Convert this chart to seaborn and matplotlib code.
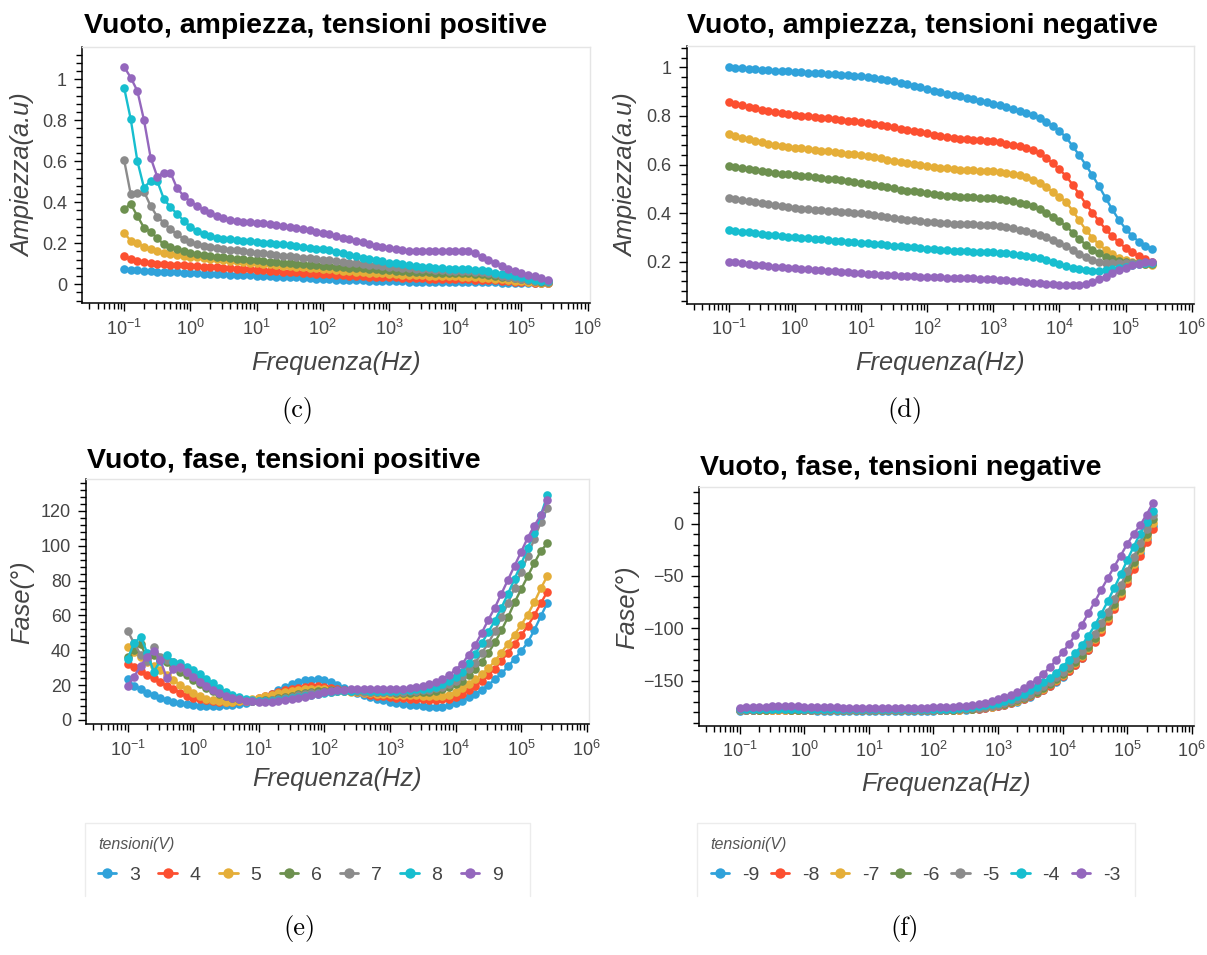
import numpy as np
import pandas as pd
import matplotlib
matplotlib.use("Agg")
import matplotlib.pyplot as plt
import seaborn as sns
from matplotlib.ticker import (FixedLocator, LogLocator, MultipleLocator, FuncFormatter,
                               LogFormatterSciNotation, NullFormatter)
from matplotlib.lines import Line2D

# ---------------------------------------------------------------- data
freq = [
    0.1, 0.1259, 0.1585, 0.1995, 0.2512, 0.3162, 0.3981, 0.5012, 0.6310, 0.7943,
    1.0, 1.259, 1.585, 1.995, 2.512, 3.162, 3.981, 5.012, 6.310, 7.943,
    10.0, 12.59, 15.85, 19.95, 25.12, 31.62, 39.81, 50.12, 63.10, 79.43,
    100.0, 125.9, 158.5, 199.5, 251.2, 316.2, 398.1, 501.2, 631.0, 794.3,
    1000.0, 1259.0, 1585.0, 1995.0, 2512.0, 3162.0, 3981.0, 5012.0, 6310.0, 7943.0,
    1.0e4, 1.259e4, 1.585e4, 1.995e4, 2.512e4, 3.162e4, 3.981e4, 5.012e4, 6.310e4, 7.943e4,
    1.0e5, 1.259e5, 1.585e5, 1.995e5, 2.512e5,
]
decade_ticks = [1e-1, 1e0, 1e1, 1e2, 1e3, 1e4, 1e5, 1e6]

pos_labels = ["3", "4", "5", "6", "7", "8", "9"]
neg_labels = ["-9", "-8", "-7", "-6", "-5", "-4", "-3"]
colors = ["#30a2da", "#fc4f30", "#e5ae38", "#6d904f", "#8b8b8b", "#17becf", "#9467bd"]

# amplitude (a.u.), positive bias
amp_p3 = [0.073, 0.070, 0.068, 0.066, 0.064, 0.062, 0.061, 0.059, 0.058, 0.057,
          0.055, 0.054, 0.052, 0.051, 0.050, 0.048, 0.047, 0.046, 0.044, 0.043,
          0.042, 0.040, 0.039, 0.037, 0.036, 0.034, 0.033, 0.031, 0.030, 0.028,
          0.026, 0.025, 0.023, 0.022, 0.021, 0.020, 0.019, 0.018, 0.017, 0.016,
          0.015, 0.014, 0.014, 0.013, 0.013, 0.013, 0.012, 0.012, 0.012, 0.012,
          0.011, 0.011, 0.011, 0.010, 0.010, 0.009, 0.009, 0.008, 0.008, 0.007,
          0.007, 0.006, 0.005, 0.005, 0.004]
amp_p4 = [0.138, 0.122, 0.114, 0.108, 0.104, 0.101, 0.098, 0.096, 0.094, 0.092,
          0.090, 0.088, 0.086, 0.084, 0.082, 0.080, 0.078, 0.076, 0.074, 0.072,
          0.070, 0.068, 0.066, 0.064, 0.062, 0.060, 0.058, 0.056, 0.054, 0.052,
          0.050, 0.048, 0.046, 0.044, 0.042, 0.040, 0.039, 0.037, 0.036, 0.035,
          0.034, 0.033, 0.032, 0.031, 0.030, 0.029, 0.028, 0.028, 0.027, 0.027,
          0.026, 0.025, 0.024, 0.023, 0.022, 0.021, 0.019, 0.017, 0.015, 0.013,
          0.011, 0.009, 0.008, 0.007, 0.006]
amp_p5 = [0.249, 0.213, 0.200, 0.183, 0.172, 0.162, 0.154, 0.148, 0.143, 0.139,
          0.135, 0.131, 0.127, 0.124, 0.121, 0.118, 0.115, 0.112, 0.109, 0.106,
          0.103, 0.100, 0.097, 0.094, 0.091, 0.089, 0.086, 0.084, 0.081, 0.079,
          0.076, 0.073, 0.070, 0.067, 0.064, 0.061, 0.059, 0.057, 0.055, 0.053,
          0.051, 0.049, 0.047, 0.045, 0.044, 0.043, 0.042, 0.041, 0.040, 0.039,
          0.038, 0.037, 0.036, 0.034, 0.032, 0.030, 0.027, 0.024, 0.021, 0.018,
          0.015, 0.012, 0.009, 0.007, 0.005]
amp_p6 = [0.366, 0.392, 0.333, 0.276, 0.257, 0.224, 0.195, 0.183, 0.172, 0.162,
          0.154, 0.148, 0.143, 0.139, 0.135, 0.131, 0.128, 0.125, 0.122, 0.119,
          0.116, 0.113, 0.110, 0.107, 0.104, 0.102, 0.099, 0.097, 0.095, 0.093,
          0.091, 0.089, 0.086, 0.084, 0.081, 0.079, 0.077, 0.075, 0.073, 0.071,
          0.069, 0.066, 0.064, 0.062, 0.060, 0.059, 0.058, 0.057, 0.056, 0.055,
          0.054, 0.054, 0.053, 0.051, 0.049, 0.045, 0.041, 0.037, 0.033, 0.029,
          0.025, 0.021, 0.017, 0.013, 0.010]
amp_p7 = [0.606, 0.439, 0.444, 0.452, 0.382, 0.330, 0.300, 0.268, 0.244, 0.221,
          0.205, 0.196, 0.189, 0.183, 0.178, 0.173, 0.169, 0.165, 0.161, 0.157,
          0.153, 0.150, 0.146, 0.143, 0.139, 0.136, 0.132, 0.129, 0.126, 0.123,
          0.120, 0.117, 0.113, 0.110, 0.106, 0.102, 0.099, 0.095, 0.092, 0.089,
          0.086, 0.083, 0.080, 0.078, 0.076, 0.074, 0.072, 0.070, 0.068, 0.067,
          0.066, 0.065, 0.064, 0.062, 0.059, 0.054, 0.048, 0.042, 0.036, 0.031,
          0.026, 0.022, 0.018, 0.015, 0.012]
amp_p8 = [0.959, 0.805, 0.601, 0.471, 0.504, 0.504, 0.416, 0.376, 0.343, 0.310,
          0.281, 0.260, 0.244, 0.235, 0.228, 0.223, 0.219, 0.215, 0.212, 0.209,
          0.206, 0.203, 0.200, 0.197, 0.194, 0.190, 0.186, 0.182, 0.178, 0.174,
          0.170, 0.165, 0.158, 0.151, 0.144, 0.137, 0.130, 0.123, 0.117, 0.111,
          0.106, 0.102, 0.098, 0.094, 0.090, 0.086, 0.083, 0.080, 0.078, 0.076,
          0.075, 0.074, 0.073, 0.071, 0.068, 0.063, 0.056, 0.050, 0.044, 0.038,
          0.033, 0.028, 0.023, 0.018, 0.014]
amp_p9 = [1.061, 1.008, 0.943, 0.801, 0.618, 0.525, 0.544, 0.544, 0.468, 0.431,
          0.403, 0.383, 0.362, 0.346, 0.333, 0.322, 0.315, 0.309, 0.305, 0.302,
          0.300, 0.297, 0.293, 0.289, 0.285, 0.281, 0.276, 0.270, 0.264, 0.257,
          0.249, 0.243, 0.236, 0.228, 0.220, 0.212, 0.204, 0.196, 0.189, 0.182,
          0.176, 0.171, 0.167, 0.164, 0.162, 0.161, 0.160, 0.160, 0.161, 0.162,
          0.163, 0.162, 0.160, 0.150, 0.133, 0.118, 0.103, 0.088, 0.076, 0.065,
          0.056, 0.046, 0.038, 0.029, 0.021]

# amplitude (a.u.), negative bias
amp_n9 = [1.000, 0.998, 0.996, 0.994, 0.992, 0.990, 0.988, 0.986, 0.985, 0.983,
          0.982, 0.980, 0.978, 0.977, 0.975, 0.973, 0.972, 0.970, 0.968, 0.966,
          0.964, 0.961, 0.957, 0.953, 0.948, 0.943, 0.937, 0.931, 0.925, 0.918,
          0.910, 0.904, 0.898, 0.892, 0.886, 0.880, 0.874, 0.868, 0.862, 0.856,
          0.850, 0.843, 0.836, 0.829, 0.821, 0.812, 0.802, 0.790, 0.776, 0.759,
          0.738, 0.712, 0.676, 0.638, 0.598, 0.555, 0.510, 0.462, 0.415, 0.372,
          0.336, 0.306, 0.283, 0.266, 0.252]
amp_n8 = [0.858, 0.851, 0.844, 0.838, 0.832, 0.826, 0.820, 0.815, 0.811, 0.807,
          0.804, 0.801, 0.798, 0.795, 0.792, 0.790, 0.787, 0.784, 0.781, 0.778,
          0.776, 0.772, 0.768, 0.763, 0.758, 0.753, 0.748, 0.743, 0.738, 0.733,
          0.728, 0.723, 0.718, 0.714, 0.710, 0.707, 0.704, 0.701, 0.699, 0.697,
          0.695, 0.691, 0.686, 0.681, 0.675, 0.668, 0.658, 0.646, 0.627, 0.605,
          0.580, 0.553, 0.517, 0.478, 0.438, 0.402, 0.367, 0.333, 0.305, 0.280,
          0.257, 0.238, 0.224, 0.211, 0.200]
amp_n7 = [0.724, 0.717, 0.710, 0.703, 0.697, 0.691, 0.686, 0.681, 0.677, 0.673,
          0.669, 0.666, 0.663, 0.660, 0.657, 0.654, 0.651, 0.648, 0.645, 0.642,
          0.639, 0.635, 0.630, 0.625, 0.620, 0.615, 0.610, 0.606, 0.602, 0.598,
          0.594, 0.590, 0.587, 0.584, 0.581, 0.579, 0.577, 0.576, 0.575, 0.574,
          0.573, 0.570, 0.566, 0.561, 0.555, 0.548, 0.537, 0.523, 0.506, 0.488,
          0.468, 0.446, 0.410, 0.370, 0.331, 0.298, 0.271, 0.249, 0.231, 0.217,
          0.207, 0.200, 0.194, 0.190, 0.186]
amp_n6 = [0.594, 0.590, 0.586, 0.582, 0.578, 0.574, 0.570, 0.566, 0.563, 0.560,
          0.557, 0.554, 0.551, 0.548, 0.545, 0.542, 0.539, 0.536, 0.533, 0.529,
          0.525, 0.521, 0.517, 0.512, 0.507, 0.502, 0.497, 0.493, 0.489, 0.486,
          0.482, 0.478, 0.475, 0.472, 0.470, 0.468, 0.466, 0.465, 0.464, 0.463,
          0.461, 0.458, 0.454, 0.449, 0.443, 0.437, 0.428, 0.416, 0.401, 0.385,
          0.366, 0.348, 0.320, 0.293, 0.270, 0.250, 0.234, 0.220, 0.210, 0.203,
          0.199, 0.196, 0.194, 0.192, 0.191]
amp_n5 = [0.461, 0.457, 0.453, 0.449, 0.445, 0.441, 0.437, 0.433, 0.429, 0.425,
          0.420, 0.418, 0.416, 0.414, 0.412, 0.410, 0.408, 0.406, 0.404, 0.402,
          0.399, 0.396, 0.392, 0.388, 0.384, 0.380, 0.376, 0.373, 0.370, 0.367,
          0.365, 0.363, 0.361, 0.359, 0.357, 0.356, 0.355, 0.354, 0.353, 0.352,
          0.350, 0.347, 0.343, 0.338, 0.332, 0.326, 0.318, 0.310, 0.300, 0.289,
          0.277, 0.264, 0.247, 0.232, 0.218, 0.207, 0.200, 0.196, 0.194, 0.193,
          0.193, 0.194, 0.195, 0.195, 0.194]
amp_n4 = [0.330, 0.327, 0.324, 0.321, 0.318, 0.315, 0.312, 0.309, 0.306, 0.303,
          0.300, 0.298, 0.296, 0.294, 0.292, 0.289, 0.287, 0.285, 0.283, 0.281,
          0.278, 0.276, 0.273, 0.271, 0.268, 0.266, 0.263, 0.261, 0.259, 0.257,
          0.254, 0.252, 0.250, 0.248, 0.246, 0.245, 0.243, 0.242, 0.240, 0.239,
          0.238, 0.236, 0.234, 0.231, 0.228, 0.224, 0.220, 0.214, 0.207, 0.199,
          0.191, 0.182, 0.174, 0.168, 0.164, 0.162, 0.162, 0.164, 0.168, 0.173,
          0.179, 0.185, 0.190, 0.194, 0.196]
amp_n3 = [0.200, 0.197, 0.194, 0.191, 0.188, 0.185, 0.182, 0.179, 0.177, 0.175,
          0.173, 0.170, 0.168, 0.166, 0.164, 0.162, 0.160, 0.158, 0.156, 0.154,
          0.152, 0.150, 0.148, 0.146, 0.145, 0.144, 0.142, 0.141, 0.140, 0.139,
          0.138, 0.137, 0.136, 0.135, 0.134, 0.133, 0.132, 0.131, 0.130, 0.129,
          0.128, 0.126, 0.124, 0.122, 0.120, 0.117, 0.114, 0.111, 0.109, 0.107,
          0.105, 0.104, 0.104, 0.106, 0.110, 0.117, 0.127, 0.139, 0.152, 0.165,
          0.176, 0.185, 0.192, 0.197, 0.200]

# phase (deg), positive bias
ph_p3 = [23.5, 19.7, 17.6, 15.7, 14.4, 12.8, 11.5, 10.5, 9.6, 9.0,
         8.4, 8.2, 8.1, 8.1, 8.2, 8.4, 8.7, 9.2, 9.8, 10.6,
         11.6, 13.1, 15.0, 17.0, 18.9, 20.5, 21.8, 22.7, 23.2, 23.3,
         22.8, 21.8, 20.3, 18.5, 16.7, 15.3, 14.4, 13.4, 12.3, 11.4,
         10.5, 9.8, 9.2, 8.7, 8.3, 8.0, 7.7, 7.6, 7.7, 8.4,
         9.6, 11.0, 12.9, 14.8, 17.2, 20.1, 23.3, 26.7, 30.7, 35.0,
         39.5, 44.5, 51.5, 59.5, 67.3]
ph_p4 = [32.0, 30.6, 28.1, 25.8, 23.9, 21.6, 19.5, 17.6, 15.7, 14.0,
         12.8, 11.9, 11.2, 10.8, 10.5, 10.4, 10.4, 10.6, 11.0, 11.6,
         12.5, 13.5, 14.7, 15.9, 17.0, 17.9, 18.6, 19.1, 19.4, 19.4,
         19.1, 18.6, 18.0, 17.3, 16.6, 15.9, 15.2, 14.6, 14.0, 13.5,
         13.1, 12.7, 12.4, 12.2, 12.0, 11.8, 11.6, 11.6, 11.8, 12.3,
         13.2, 14.8, 17.2, 19.6, 22.4, 25.8, 29.5, 34.0, 38.6, 43.5,
         48.5, 54.0, 60.0, 67.0, 73.7]
ph_p5 = [42.1, 39.2, 36.3, 33.5, 31.0, 28.7, 25.8, 23.0, 20.1, 17.6,
         15.3, 13.6, 12.3, 11.3, 10.6, 10.3, 10.3, 10.6, 11.1, 11.8,
         12.7, 13.6, 14.5, 15.3, 16.1, 16.7, 17.2, 17.5, 17.7, 17.7,
         17.5, 17.2, 16.9, 16.5, 16.2, 15.8, 15.5, 15.3, 15.1, 14.9,
         14.7, 14.6, 14.5, 14.4, 14.2, 14.0, 13.8, 13.8, 14.0, 14.6,
         16.0, 18.2, 20.8, 23.3, 26.3, 29.6, 33.8, 38.7, 43.8, 49.0,
         54.5, 60.5, 67.5, 75.5, 82.7]
ph_p6 = [36.0, 40.2, 43.6, 35.4, 37.3, 34.4, 33.5, 30.6, 27.7, 25.8,
         23.0, 20.7, 18.6, 16.7, 15.1, 13.8, 12.8, 12.0, 11.4, 11.1,
         11.0, 11.2, 11.7, 12.4, 13.2, 14.0, 14.8, 15.5, 16.1, 16.6,
         16.9, 17.1, 17.1, 17.0, 16.8, 16.6, 16.4, 16.2, 16.0, 15.9,
         15.8, 15.7, 15.7, 15.7, 15.8, 16.0, 16.3, 16.8, 17.6, 18.8,
         20.5, 22.6, 25.8, 29.0, 33.5, 38.5, 44.5, 51.5, 59.0, 67.5,
         75.0, 82.5, 90.0, 97.0, 101.4]
ph_p7 = [51.3, 44.0, 37.5, 34.0, 42.0, 36.3, 34.4, 33.0, 30.0, 27.5,
         25.2, 22.8, 20.5, 18.4, 16.5, 14.9, 13.5, 12.4, 11.6, 11.1,
         10.9, 11.0, 11.4, 12.0, 12.7, 13.4, 14.1, 14.7, 15.2, 15.6,
         15.9, 16.2, 16.4, 16.5, 16.5, 16.4, 16.3, 16.3, 16.2, 16.2,
         16.2, 16.2, 16.3, 16.4, 16.7, 17.0, 17.4, 18.1, 19.1, 20.6,
         22.6, 25.3, 29.0, 32.8, 38.5, 44.0, 51.0, 59.0, 67.0, 76.0,
         85.0, 94.0, 104.0, 113.5, 121.5]
ph_p8 = [35.0, 44.0, 47.8, 38.5, 27.7, 34.0, 37.3, 33.5, 32.5, 30.5,
         28.7, 26.3, 23.8, 21.0, 18.2, 15.9, 14.2, 12.9, 11.9, 11.2,
         10.8, 10.7, 10.9, 11.3, 11.9, 12.6, 13.3, 14.0, 14.6, 15.1,
         15.6, 16.0, 16.4, 16.7, 16.9, 17.0, 17.0, 16.9, 16.8, 16.8,
         16.8, 16.9, 17.0, 17.2, 17.5, 17.9, 18.4, 19.2, 20.5, 22.3,
         24.7, 27.7, 32.5, 37.8, 44.0, 50.5, 57.0, 64.5, 72.5, 81.0,
         89.5, 98.5, 107.5, 117.5, 129.0]
ph_p9 = [19.5, 24.9, 31.0, 36.3, 39.8, 34.4, 23.9, 29.1, 30.2, 27.7,
         24.5, 22.0, 19.6, 17.4, 15.5, 14.0, 12.8, 11.8, 11.1, 10.6,
         10.3, 10.3, 10.5, 10.8, 11.2, 11.8, 12.5, 13.3, 14.1, 15.0,
         15.8, 16.5, 17.0, 17.3, 17.5, 17.6, 17.6, 17.6, 17.6, 17.6,
         17.7, 17.8, 18.0, 18.3, 18.8, 19.6, 20.6, 21.8, 23.4, 25.6,
         28.8, 32.0, 37.5, 43.0, 50.0, 57.5, 64.5, 72.5, 80.5, 88.5,
         96.5, 104.5, 111.5, 117.5, 126.3]

# phase (deg), negative bias
ph_n9 = [-178.5, -178.4, -178.3, -178.2, -178.1, -178.0, -178.0, -178.0, -178.1, -178.2,
         -178.3, -178.4, -178.5, -178.5, -178.6, -178.6, -178.6, -178.6, -178.6, -178.6,
         -178.6, -178.6, -178.6, -178.6, -178.6, -178.6, -178.6, -178.6, -178.5, -178.5,
         -178.5, -178.4, -178.3, -178.2, -178.0, -177.8, -177.4, -176.9, -176.2, -175.4,
         -174.4, -173.2, -171.8, -170.0, -167.8, -165.2, -162.2, -158.8, -155.0, -150.8,
         -146.2, -141.0, -135.2, -128.4, -120.6, -111.8, -102.0, -91.2, -79.6, -67.2,
         -54.0, -41.0, -28.5, -15.0, -2.0]
ph_n8 = [-178.3, -178.2, -178.1, -178.0, -177.9, -177.8, -177.8, -177.8, -177.9, -178.0,
         -178.1, -178.2, -178.3, -178.3, -178.4, -178.4, -178.4, -178.4, -178.4, -178.4,
         -178.4, -178.4, -178.4, -178.4, -178.4, -178.4, -178.4, -178.4, -178.3, -178.3,
         -178.3, -178.2, -178.1, -178.0, -177.8, -177.5, -177.1, -176.6, -175.9, -175.1,
         -174.1, -172.9, -171.5, -169.7, -167.6, -165.0, -162.0, -158.6, -154.8, -150.6,
         -146.0, -140.8, -135.0, -128.4, -121.0, -112.6, -103.2, -92.8, -81.4, -69.2,
         -56.4, -43.5, -31.0, -18.0, -5.4]
ph_n7 = [-178.2, -178.1, -178.0, -177.9, -177.8, -177.7, -177.7, -177.7, -177.8, -177.9,
         -178.0, -178.1, -178.2, -178.2, -178.3, -178.3, -178.3, -178.3, -178.3, -178.3,
         -178.3, -178.3, -178.3, -178.3, -178.3, -178.3, -178.3, -178.3, -178.2, -178.2,
         -178.2, -178.1, -178.0, -177.8, -177.6, -177.3, -176.9, -176.3, -175.6, -174.7,
         -173.6, -172.3, -170.8, -169.0, -166.8, -164.1, -161.0, -157.5, -153.6, -149.3,
         -144.5, -139.2, -133.2, -126.4, -118.8, -110.2, -100.6, -90.0, -78.4, -65.8,
         -52.4, -39.0, -25.5, -12.5, 1.0]
ph_n6 = [-178.0, -177.9, -177.8, -177.7, -177.6, -177.5, -177.5, -177.5, -177.6, -177.7,
         -177.8, -177.9, -178.0, -178.0, -178.1, -178.1, -178.1, -178.1, -178.1, -178.1,
         -178.1, -178.1, -178.1, -178.1, -178.1, -178.1, -178.1, -178.1, -178.0, -178.0,
         -178.0, -177.9, -177.8, -177.6, -177.4, -177.1, -176.7, -176.1, -175.4, -174.5,
         -173.4, -172.1, -170.5, -168.6, -166.4, -163.7, -160.6, -157.0, -153.0, -148.6,
         -143.7, -138.3, -132.2, -125.3, -117.6, -108.9, -99.2, -88.5, -76.8, -64.1,
         -50.6, -37.0, -23.4, -9.8, 4.2]
ph_n5 = [-177.8, -177.7, -177.6, -177.5, -177.4, -177.3, -177.3, -177.3, -177.4, -177.5,
         -177.6, -177.7, -177.8, -177.8, -177.9, -177.9, -177.9, -177.9, -177.9, -177.9,
         -177.9, -177.9, -177.9, -177.9, -177.9, -177.9, -177.9, -177.9, -177.8, -177.8,
         -177.8, -177.7, -177.6, -177.4, -177.2, -176.9, -176.4, -175.8, -175.0, -174.0,
         -172.8, -171.4, -169.7, -167.7, -165.3, -162.5, -159.2, -155.4, -151.2, -146.5,
         -141.3, -135.6, -129.2, -122.0, -114.0, -105.0, -95.0, -84.0, -72.0, -59.0,
         -45.5, -32.0, -18.5, -5.0, 8.3]
ph_n4 = [-177.4, -177.3, -177.1, -176.9, -176.8, -176.7, -176.7, -176.7, -176.8, -176.9,
         -177.0, -177.1, -177.2, -177.3, -177.4, -177.4, -177.5, -177.5, -177.5, -177.5,
         -177.5, -177.5, -177.5, -177.5, -177.5, -177.5, -177.5, -177.5, -177.4, -177.4,
         -177.3, -177.2, -177.0, -176.8, -176.5, -176.0, -175.4, -174.6, -173.6, -172.4,
         -171.0, -169.3, -167.3, -165.0, -162.3, -159.2, -155.7, -151.7, -147.2, -142.2,
         -136.6, -130.4, -123.6, -116.0, -107.0, -97.0, -86.0, -74.0, -61.5, -48.5,
         -35.0, -22.0, -9.5, 1.5, 12.0]
ph_n3 = [-176.0, -175.6, -175.2, -174.9, -174.7, -174.5, -174.4, -174.4, -174.5, -174.6,
         -174.8, -175.0, -175.2, -175.4, -175.5, -175.6, -175.7, -175.8, -175.8, -175.9,
         -175.9, -175.9, -175.9, -175.9, -175.9, -175.9, -175.8, -175.8, -175.7, -175.7,
         -175.6, -175.5, -175.3, -175.0, -174.6, -174.0, -173.2, -172.2, -171.0, -169.5,
         -167.8, -165.8, -163.4, -160.6, -157.4, -153.6, -149.0, -143.6, -137.4, -130.5,
         -123.0, -115.0, -106.0, -96.5, -85.5, -74.5, -63.0, -52.0, -41.0, -30.5,
         -19.5, -10.0, -1.5, 8.5, 19.8]

amp_pos = [amp_p3, amp_p4, amp_p5, amp_p6, amp_p7, amp_p8, amp_p9]
amp_neg = [amp_n9, amp_n8, amp_n7, amp_n6, amp_n5, amp_n4, amp_n3]
ph_pos = [ph_p3, ph_p4, ph_p5, ph_p6, ph_p7, ph_p8, ph_p9]
ph_neg = [ph_n9, ph_n8, ph_n7, ph_n6, ph_n5, ph_n4, ph_n3]

# ---------------------------------------------------------------- style
sns.set_theme(style="white")
plt.rcParams["font.family"] = ["Liberation Sans", "DejaVu Sans"]
plt.rcParams["mathtext.fontset"] = "custom"
plt.rcParams["mathtext.rm"] = "Liberation Sans"
plt.rcParams["mathtext.it"] = "Liberation Sans:italic"
plt.rcParams["mathtext.bf"] = "Liberation Sans:bold"

W, H = 1207, 955
TEXT = "#444444"
fig = plt.figure(figsize=(W / 100, H / 100), dpi=100)
fig.patch.set_facecolor("white")


def px_box(left, top, right, bottom):
    return [left / W, 1 - bottom / H, (right - left) / W, (bottom - top) / H]


def fx(x):
    return x / W


def fy(y):
    return 1 - y / H


def tidy(v, pos):
    return f"{v:g}".replace("-", "\u2212")


def draw_panel(box, series, labels, ylim, ymaj, ymin):
    ax = fig.add_axes(px_box(*box))
    rows = []
    for lab, vals in zip(labels, series):
        for f, v in zip(freq, vals):
            rows.append((f, v, lab))
    df = pd.DataFrame(rows, columns=["freq", "val", "tensione"])
    sns.lineplot(data=df, x="freq", y="val", hue="tensione", hue_order=labels,
                 palette=colors, marker="o", markersize=6.2, markeredgewidth=0,
                 linewidth=1.7, estimator=None, sort=False, legend=False, ax=ax)
    ax.set_xscale("log")
    ax.set_xlim(10 ** -1.63, 10 ** 6.035)
    ax.set_ylim(*ylim)
    ax.xaxis.set_major_locator(FixedLocator(decade_ticks))
    ax.xaxis.set_minor_locator(LogLocator(base=10, subs=np.arange(2, 10), numticks=200))
    ax.xaxis.set_major_formatter(LogFormatterSciNotation())
    ax.xaxis.set_minor_formatter(NullFormatter())
    ax.yaxis.set_major_locator(MultipleLocator(ymaj))
    ax.yaxis.set_minor_locator(MultipleLocator(ymin))
    ax.yaxis.set_major_formatter(FuncFormatter(tidy))
    ax.set_xlabel("")
    ax.set_ylabel("")
    for side in ("top", "right"):
        ax.spines[side].set_color("#e5e5e5")
        ax.spines[side].set_linewidth(1.0)
    for side in ("left", "bottom"):
        ax.spines[side].set_color("black")
        ax.spines[side].set_linewidth(1.1)
    ax.tick_params(which="both", bottom=True, left=True, top=False, right=False,
                   direction="out", color="black", width=1.0)
    ax.tick_params(which="major", length=6, labelsize=13, labelcolor=TEXT, pad=5)
    ax.tick_params(which="minor", length=4)
    return ax


ax_c = draw_panel((82.4, 46.7, 590, 303.3), amp_pos, pos_labels, (-0.093, 1.159), 0.2, 0.04)
ax_d = draw_panel((687, 45.7, 1194, 304), amp_neg, neg_labels, (0.026, 1.089), 0.2, 0.04)
ax_e = draw_panel((86.2, 479.3, 589, 724.3), ph_pos, pos_labels, (-2.5, 138.2), 20, 4)
ax_f = draw_panel((699, 486.7, 1194, 726), ph_neg, neg_labels, (-193.3, 35.3), 50, 10)

# titles
title_kw = dict(fontsize=20.5, fontweight="bold", color="black", ha="left", va="baseline")
fig.text(fx(83.5), fy(33), "Vuoto, ampiezza, tensioni positive", **title_kw)
fig.text(fx(687), fy(33), "Vuoto, ampiezza, tensioni negative", **title_kw)
fig.text(fx(87.4), fy(468), "Vuoto, fase, tensioni positive", **title_kw)
fig.text(fx(700), fy(475), "Vuoto, fase, tensioni negative", **title_kw)

# axis labels
lab_kw = dict(fontsize=18.3, style="italic", color=TEXT, ha="center", va="center")
fig.text(fx(336), fy(363), "Frequenza(Hz)", **lab_kw)
fig.text(fx(940), fy(363), "Frequenza(Hz)", **lab_kw)
fig.text(fx(337), fy(779), "Frequenza(Hz)", **lab_kw)
fig.text(fx(946), fy(784), "Frequenza(Hz)", **lab_kw)
fig.text(fx(23), fy(175), "Ampiezza(a.u)", rotation=90, **lab_kw)
fig.text(fx(626), fy(175), "Ampiezza(a.u)", rotation=90, **lab_kw)
fig.text(fx(22), fy(602), "Fase(°)", rotation=90, **lab_kw)
fig.text(fx(627), fy(607), "Fase(°)", rotation=90, **lab_kw)

# sub-figure captions
cap_kw = dict(fontsize=19, family="cmr10", color="black", ha="center", va="center")
fig.text(fx(297), fy(410), "(c)", **cap_kw)
fig.text(fx(905), fy(410), "(d)", **cap_kw)
fig.text(fx(300), fy(928), "(e)", **cap_kw)
fig.text(fx(905), fy(928), "(f)", **cap_kw)

# legends below the phase panels
handles = [Line2D([0], [0], color=c, lw=2.0, marker="o", markersize=7.5,
                  markeredgewidth=0) for c in colors]


def add_legend(labels, x_left, frame_left, frame_right, colspace):
    leg = fig.legend(handles, labels, loc="upper left",
                     bbox_to_anchor=(fx(x_left), fy(837)), ncol=7, frameon=False,
                     title="tensioni(V)", alignment="left",
                     title_fontproperties={"style": "italic", "size": 11.5},
                     prop={"size": 14}, handlelength=0.95, handletextpad=0.65,
                     columnspacing=colspace, borderpad=0, borderaxespad=0,
                     labelspacing=0.75)
    for t in leg.get_texts():
        t.set_color(TEXT)
    leg.get_title().set_color("#555555")
    fig.add_artist(Line2D([fx(frame_left), fx(frame_left), fx(frame_right), fx(frame_right)],
                          [fy(896), fy(823), fy(823), fy(896)],
                          transform=fig.transFigure, color="#ececec", lw=1.0))
    return leg


add_legend(pos_labels, 98, 85, 530, 0.95)
add_legend(neg_labels, 710.7, 697, 1135, 0.6)

fig.savefig("out.png", dpi=100, facecolor="white")
